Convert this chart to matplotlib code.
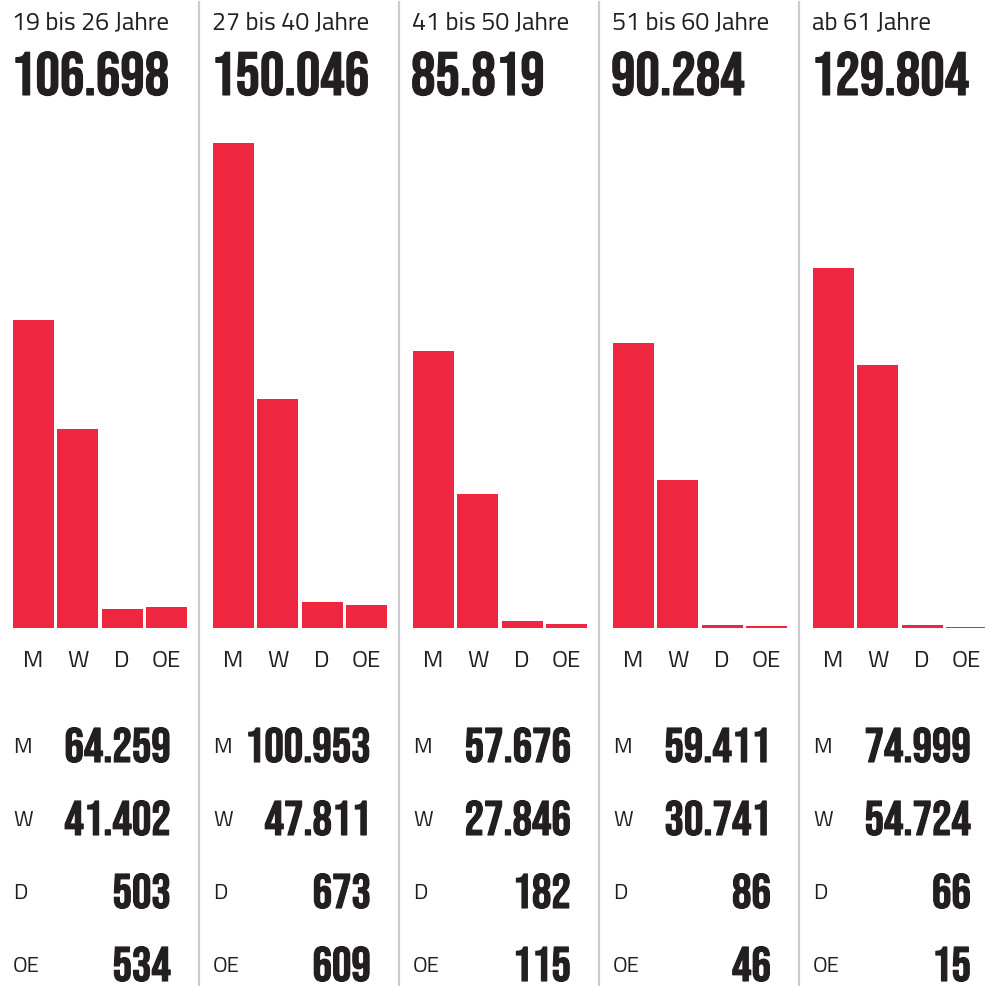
import matplotlib
matplotlib.use("Agg")
import matplotlib.pyplot as plt
from matplotlib import font_manager
from matplotlib import patheffects as pe
from matplotlib.transforms import offset_copy

# Data
age_groups = ["19 bis 26 Jahre", "27 bis 40 Jahre", "41 bis 50 Jahre", "51 bis 60 Jahre", "ab 61 Jahre"]
totals = [106698, 150046, 85819, 90284, 129804]
categories = ["M", "W", "D", "OE"]
m_values = [64259, 100953, 57676, 59411, 74999]
w_values = [41402, 47811, 27846, 30741, 54724]
d_values = [503, 673, 182, 86, 66]
oe_values = [534, 609, 115, 46, 15]
# the original draws the two small groups exaggerated (about 8x)
bar_factor = [1, 1, 8, 8]

RED = "#ee2640"
INK = "#231f20"
GRID = "#cccccc"

names = {f.name for f in font_manager.fontManager.ttflist}


def pick(cands):
    for c in cands:
        if c in names:
            return c
    return "DejaVu Sans"


cond = pick(["Bebas Neue", "Oswald", "Fjalla One", "Antonio", "Roboto Condensed", "Liberation Sans Narrow"])
plain = pick(["Titillium Web", "Kanit", "Open Sans"])
cond_w = "normal" if cond == "Bebas Neue" else "bold"
# a thin outline makes the numbers as heavy as in the original
heavy = [pe.withStroke(linewidth=0.8, foreground=INK)]

W, H = 985, 987
fig = plt.figure(figsize=(W / 100, H / 100), dpi=100)

# overlay in pixel coordinates for texts and separators
ov = fig.add_axes([0, 0, 1, 1])
ov.set_xlim(0, W)
ov.set_ylim(H, 0)
ov.axis("off")

px_per_unit = 0.0048
base_y = 629
ax_h = 500

for i, group in enumerate(age_groups):
    x0 = 200 * i
    if i > 0:
        ov.plot([x0 - 1, x0 - 1], [2, H], color=GRID, lw=1.6, solid_capstyle="butt")

    ov.text(x0 + 12, 29, group, fontsize=18, family=plain, color=INK,
            ha="left", va="baseline")
    ov.text(x0 + 11, 96, f"{totals[i]:,}".replace(",", "."), fontsize=44,
            family=cond, weight=cond_w, color=INK, ha="left", va="baseline",
            path_effects=heavy)

    # bars
    left = (x0 + 13) / W
    bottom = (H - base_y) / H
    ax = fig.add_axes([left, bottom, 174 / W, ax_h / H])
    vals = [m_values[i], w_values[i], d_values[i], oe_values[i]]
    heights = [v * f for v, f in zip(vals, bar_factor)]
    ax.bar(range(4), heights, width=0.925, color=RED)
    ax.set_xlim(-0.4625, 3.4625)
    ax.set_ylim(0, ax_h / px_per_unit)
    ax.axis("off")
    lab_tr = offset_copy(ax.transData, fig=fig, y=-38, units="dots")
    for k, cat in enumerate(categories):
        ax.text(k, 0, cat, transform=lab_tr, fontsize=17.5, family=plain,
                color=INK, ha="center", va="baseline", clip_on=False)

    # table
    for j, (cat, v) in enumerate(zip(categories, vals)):
        y = 73 * j
        ov.text(x0 + 13, 753 + y, cat, fontsize=16, family=plain, color=INK,
                ha="left", va="baseline")
        ov.text(x0 + 171, 763 + y, f"{v:,}".replace(",", "."), fontsize=35,
                family=cond, weight=cond_w, color=INK, ha="right", va="baseline",
                path_effects=heavy)

fig.savefig("out.png", dpi=100)
